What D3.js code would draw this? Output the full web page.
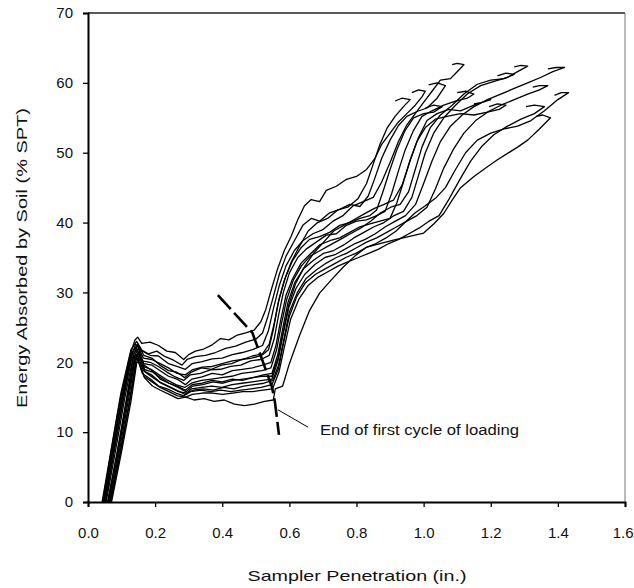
<!DOCTYPE html>
<html>
<head>
<meta charset="utf-8">
<script src="https://cdn.jsdelivr.net/npm/d3@7"></script>
<style>
  body { margin: 0; background: #fff; }
  text { font-family: "Liberation Sans", Arial, sans-serif; fill: #111; }
</style>
</head>
<body>
<div id="chart"></div>
<script>
"use strict";

// energy absorbed by soil vs sampler penetration, one array per blow record
const blow01 = [[0.044,0],[0.068,7.0],[0.094,14.2],[0.125,21.0],[0.140,23.2],[0.148,23.6],[0.160,22.7],[0.185,22.9],[0.210,22.4],[0.235,21.6],[0.260,21.4],[0.285,20.4],[0.300,21.1],[0.320,21.6],[0.345,21.9],[0.370,22.5],[0.395,23.4],[0.420,23.2],[0.445,23.9],[0.470,24.2],[0.495,24.6],[0.515,25.8],[0.530,27.6],[0.545,30.2],[0.565,33.4],[0.585,36.0],[0.605,38.0],[0.625,40.4],[0.645,42.4],[0.665,43.3],[0.690,43.0],[0.710,44.6],[0.740,45.2],[0.770,46.2],[0.800,46.6],[0.830,47.6],[0.855,49.2],[0.875,51.2],[0.900,52.8],[0.925,54.4],[0.950,55.6],[0.975,56.8],[0.995,58.0],[1.005,58.8],[0.985,59.0],[0.965,58.6]];
const blow02 = [[0.048,0],[0.074,7.6],[0.100,14.8],[0.128,20.8],[0.142,22.6],[0.158,21.8],[0.180,21.2],[0.205,21.6],[0.230,20.8],[0.255,20.3],[0.280,19.6],[0.295,20.4],[0.320,20.8],[0.350,21.0],[0.380,21.4],[0.410,22.0],[0.440,22.3],[0.470,22.9],[0.500,23.3],[0.520,24.2],[0.535,26.4],[0.550,29.0],[0.570,32.6],[0.590,35.2],[0.615,37.4],[0.640,39.6],[0.665,40.6],[0.690,40.2],[0.720,41.4],[0.750,41.9],[0.780,42.6],[0.810,42.3],[0.835,43.8],[0.855,46.4],[0.875,49.2],[0.900,51.8],[0.925,53.9],[0.950,55.2],[0.980,55.9],[1.010,56.4],[1.040,57.8],[1.065,59.6],[1.040,60.0],[1.015,59.7]];
const blow03 = [[0.042,0],[0.070,7.8],[0.098,15.6],[0.128,21.8],[0.145,23.0],[0.162,21.6],[0.185,21.0],[0.210,20.9],[0.240,19.8],[0.265,19.4],[0.290,19.0],[0.310,19.8],[0.340,20.1],[0.370,20.5],[0.400,20.6],[0.430,21.1],[0.460,21.4],[0.490,21.8],[0.520,22.4],[0.538,24.6],[0.553,27.8],[0.570,31.0],[0.590,33.8],[0.615,36.0],[0.640,37.4],[0.670,38.4],[0.700,39.0],[0.730,40.2],[0.760,41.0],[0.790,42.4],[0.820,43.0],[0.850,43.6],[0.875,45.8],[0.900,48.6],[0.925,51.6],[0.950,54.0],[0.975,55.6],[1.000,57.2],[1.025,58.8],[1.050,60.4],[1.080,60.6],[1.100,61.6],[1.120,62.6],[1.100,62.8],[1.085,62.6]];
const blow04 = [[0.058,0],[0.088,7.4],[0.114,14.6],[0.136,21.0],[0.147,22.4],[0.165,20.6],[0.190,20.4],[0.215,19.8],[0.240,19.2],[0.265,18.4],[0.290,18.2],[0.310,18.9],[0.340,19.3],[0.370,19.4],[0.400,19.8],[0.430,20.2],[0.460,20.4],[0.490,20.9],[0.520,21.2],[0.540,22.6],[0.555,25.6],[0.570,29.2],[0.590,32.4],[0.610,34.6],[0.635,36.4],[0.660,37.6],[0.690,38.0],[0.720,38.6],[0.750,39.6],[0.780,40.0],[0.810,40.6],[0.840,41.0],[0.860,41.8],[0.880,44.6],[0.900,47.6],[0.920,50.4],[0.945,53.2],[0.970,55.0],[1.000,55.6],[1.030,55.8],[1.055,56.6],[1.030,56.8],[1.005,56.4]];
const blow05 = [[0.046,0],[0.072,7.2],[0.099,14.6],[0.128,21.2],[0.143,22.2],[0.160,20.2],[0.185,20.0],[0.210,19.4],[0.235,18.6],[0.260,17.9],[0.285,17.4],[0.305,18.2],[0.335,18.4],[0.365,18.9],[0.395,19.0],[0.425,19.4],[0.455,19.6],[0.485,20.2],[0.515,20.4],[0.540,21.0],[0.555,23.4],[0.568,26.8],[0.582,30.0],[0.600,32.8],[0.625,35.0],[0.650,36.2],[0.680,37.2],[0.710,38.2],[0.740,38.4],[0.770,39.6],[0.800,40.2],[0.830,40.4],[0.860,41.0],[0.885,41.6],[0.905,44.2],[0.925,47.4],[0.945,50.4],[0.970,53.2],[0.995,55.2],[1.025,56.0],[1.060,56.8],[1.095,57.4],[1.130,57.8],[1.150,58.4],[1.125,58.8],[1.100,58.6]];
const blow06 = [[0.062,0],[0.092,7.6],[0.118,14.8],[0.140,21.0],[0.150,22.0],[0.166,19.8],[0.190,19.6],[0.215,18.8],[0.240,18.0],[0.265,17.6],[0.290,16.8],[0.310,17.6],[0.340,17.9],[0.370,18.4],[0.400,18.2],[0.430,18.8],[0.460,19.0],[0.490,19.2],[0.520,19.6],[0.545,20.0],[0.560,22.4],[0.574,26.0],[0.590,29.6],[0.610,32.0],[0.635,34.2],[0.660,35.4],[0.690,36.8],[0.720,37.4],[0.750,37.8],[0.780,38.6],[0.810,39.4],[0.840,39.8],[0.870,40.2],[0.900,40.6],[0.920,42.8],[0.940,45.8],[0.960,49.0],[0.985,52.2],[1.010,54.6],[1.040,55.6],[1.075,56.2],[1.110,56.0],[1.150,56.8],[1.185,57.4],[1.200,57.6],[1.175,57.2],[1.150,57.0]];
const blow07 = [[0.050,0],[0.078,7.6],[0.105,14.8],[0.131,21.0],[0.146,21.8],[0.164,19.4],[0.188,19.0],[0.212,18.2],[0.238,17.4],[0.262,16.8],[0.288,16.4],[0.308,17.0],[0.338,17.4],[0.368,17.6],[0.398,17.8],[0.428,18.0],[0.458,18.4],[0.488,18.6],[0.518,18.8],[0.545,19.2],[0.562,21.8],[0.576,25.4],[0.592,29.0],[0.612,31.8],[0.636,33.8],[0.662,35.2],[0.692,36.0],[0.722,36.8],[0.752,37.6],[0.782,38.4],[0.812,39.2],[0.842,40.2],[0.872,41.4],[0.902,42.2],[0.930,42.6],[0.955,44.4],[0.975,47.6],[0.995,50.8],[1.020,53.6],[1.050,55.4],[1.085,56.8],[1.120,58.4],[1.160,59.8],[1.200,60.4],[1.240,60.6],[1.270,61.2],[1.245,61.4],[1.220,61.0]];
const blow08 = [[0.066,0],[0.097,7.4],[0.124,14.6],[0.143,20.4],[0.152,21.6],[0.168,19.0],[0.192,18.6],[0.216,17.8],[0.242,17.0],[0.268,16.4],[0.292,15.8],[0.312,16.6],[0.342,16.8],[0.372,17.2],[0.402,17.0],[0.432,17.4],[0.462,17.6],[0.492,17.8],[0.522,18.2],[0.548,18.4],[0.565,21.0],[0.580,24.8],[0.596,28.6],[0.616,31.4],[0.642,33.4],[0.672,34.6],[0.702,35.6],[0.732,36.0],[0.762,36.8],[0.792,37.8],[0.822,38.6],[0.852,39.4],[0.882,40.0],[0.912,41.0],[0.940,41.6],[0.965,43.6],[0.985,46.8],[1.005,50.0],[1.030,52.8],[1.060,55.0],[1.095,56.8],[1.130,58.4],[1.170,59.6],[1.210,60.2],[1.250,60.8],[1.280,61.6],[1.310,62.4],[1.290,62.5],[1.270,62.3]];
const blow09 = [[0.054,0],[0.083,7.6],[0.110,15.0],[0.134,20.6],[0.147,21.2],[0.165,18.8],[0.189,18.2],[0.213,17.2],[0.239,16.6],[0.265,16.0],[0.289,15.4],[0.309,16.2],[0.339,16.4],[0.369,16.6],[0.399,16.4],[0.429,16.8],[0.459,17.0],[0.489,17.2],[0.519,17.4],[0.548,17.6],[0.566,20.2],[0.581,24.0],[0.598,27.8],[0.620,30.6],[0.646,32.6],[0.676,34.0],[0.706,35.0],[0.736,35.4],[0.766,36.2],[0.796,37.0],[0.826,37.6],[0.856,38.4],[0.886,39.4],[0.916,40.2],[0.946,41.0],[0.976,42.6],[1.000,45.6],[1.025,48.8],[1.050,51.6],[1.080,53.8],[1.115,55.4],[1.150,56.6],[1.190,57.6],[1.230,58.4],[1.270,59.2],[1.310,60.0],[1.350,60.8],[1.385,61.6],[1.420,62.2],[1.395,62.2],[1.370,62.0]];
const blow10 = [[0.070,0],[0.100,7.2],[0.128,14.4],[0.146,20.2],[0.154,20.8],[0.170,18.6],[0.194,17.8],[0.218,17.0],[0.244,16.4],[0.270,15.8],[0.294,15.6],[0.314,16.0],[0.344,16.2],[0.374,16.0],[0.404,16.4],[0.434,16.2],[0.464,16.6],[0.494,16.8],[0.524,17.0],[0.550,17.4],[0.568,19.6],[0.584,23.4],[0.600,27.2],[0.624,30.0],[0.650,32.0],[0.680,33.2],[0.710,34.2],[0.740,35.0],[0.770,35.6],[0.800,36.4],[0.830,37.2],[0.860,37.8],[0.890,38.6],[0.920,39.4],[0.950,40.2],[0.980,41.0],[1.010,42.2],[1.035,44.8],[1.060,47.8],[1.090,50.6],[1.120,52.8],[1.155,54.6],[1.190,55.8],[1.230,56.8],[1.270,57.6],[1.310,58.4],[1.345,59.0],[1.370,59.6],[1.345,59.6],[1.325,59.4]];
const blow11 = [[0.047,0],[0.074,7.4],[0.101,14.6],[0.129,20.6],[0.144,21.0],[0.162,18.4],[0.186,17.6],[0.210,16.6],[0.236,16.2],[0.262,15.6],[0.286,15.2],[0.306,15.8],[0.336,16.0],[0.366,15.8],[0.396,16.0],[0.426,15.8],[0.456,16.0],[0.486,16.2],[0.516,16.4],[0.548,16.8],[0.567,19.0],[0.583,22.8],[0.600,26.6],[0.622,29.4],[0.648,31.4],[0.678,32.6],[0.708,33.4],[0.738,34.2],[0.768,35.0],[0.798,35.6],[0.828,36.4],[0.858,37.0],[0.888,37.8],[0.918,38.8],[0.948,40.2],[0.975,41.4],[1.005,42.4],[1.038,43.6],[1.065,45.0],[1.095,47.6],[1.125,50.0],[1.160,51.8],[1.200,52.8],[1.240,53.4],[1.280,53.8],[1.320,54.6],[1.360,56.0],[1.400,57.6],[1.432,58.6],[1.410,58.6],[1.390,58.2]];
const blow12 = [[0.060,0],[0.090,7.8],[0.117,15.0],[0.138,20.4],[0.149,20.4],[0.167,18.0],[0.191,17.2],[0.215,16.4],[0.241,15.8],[0.267,15.2],[0.291,15.0],[0.311,15.4],[0.341,15.6],[0.371,15.6],[0.401,15.4],[0.431,15.6],[0.461,15.8],[0.491,15.8],[0.521,16.0],[0.550,16.2],[0.569,18.6],[0.586,22.4],[0.604,26.2],[0.628,29.0],[0.656,31.0],[0.686,32.2],[0.716,33.0],[0.746,33.8],[0.776,34.4],[0.806,35.0],[0.836,35.6],[0.866,36.2],[0.896,37.0],[0.926,37.6],[0.956,38.4],[0.986,39.2],[1.016,40.2],[1.046,41.0],[1.076,43.4],[1.106,46.0],[1.140,48.8],[1.175,51.0],[1.210,52.6],[1.250,53.8],[1.290,54.8],[1.330,55.6],[1.360,56.6],[1.330,56.8],[1.305,56.6]];
const blow13 = [[0.068,0],[0.099,7.6],[0.126,14.8],[0.144,20.0],[0.152,20.0],[0.168,17.8],[0.192,16.6],[0.216,16.0],[0.242,15.4],[0.268,14.8],[0.292,15.0],[0.316,14.6],[0.346,14.8],[0.376,14.4],[0.406,14.6],[0.436,14.0],[0.466,13.8],[0.496,14.0],[0.526,14.4],[0.552,14.6],[0.558,16.2],[0.580,16.6],[0.600,19.8],[0.630,23.8],[0.660,27.4],[0.690,29.9],[0.725,31.8],[0.760,33.6],[0.795,35.2],[0.830,36.5],[0.870,37.0],[0.910,37.5],[0.955,38.0],[1.000,38.5],[1.030,39.8],[1.060,41.3],[1.085,43.2],[1.110,45.0],[1.150,46.6],[1.190,48.0],[1.220,49.0],[1.250,49.9],[1.280,50.8],[1.310,51.8],[1.345,53.4],[1.378,55.0],[1.355,55.4],[1.335,55.2]];
const blow14 = [[0.052,0],[0.080,7.8],[0.107,15.2],[0.133,21.4],[0.148,22.6],[0.166,21.0],[0.190,20.6],[0.214,19.6],[0.240,18.8],[0.264,18.6],[0.288,17.8],[0.308,18.6],[0.338,19.2],[0.368,19.0],[0.398,19.6],[0.428,19.8],[0.458,20.4],[0.488,20.6],[0.518,21.0],[0.538,21.8],[0.552,24.6],[0.566,28.4],[0.584,31.6],[0.606,34.4],[0.630,36.6],[0.656,38.8],[0.684,40.0],[0.714,40.6],[0.744,41.8],[0.774,42.2],[0.804,43.4],[0.830,45.6],[0.850,48.4],[0.870,51.2],[0.892,53.6],[0.915,55.2],[0.940,56.6],[0.960,57.6],[0.935,57.8],[0.915,57.4]];
const blow15 = [[0.064,0],[0.094,7.4],[0.121,14.8],[0.141,20.6],[0.150,21.4],[0.167,19.6],[0.191,18.8],[0.215,17.6],[0.241,17.0],[0.266,16.6],[0.290,16.0],[0.310,16.8],[0.340,17.0],[0.370,17.4],[0.400,17.2],[0.430,17.6],[0.460,17.4],[0.490,17.8],[0.520,18.0],[0.548,18.0],[0.566,20.6],[0.582,24.4],[0.598,28.2],[0.618,31.2],[0.644,33.6],[0.672,35.6],[0.702,37.2],[0.732,38.8],[0.762,39.6],[0.792,40.4],[0.822,41.2],[0.852,42.0],[0.882,42.6],[0.910,43.2],[0.936,45.4],[0.958,48.6],[0.980,51.6],[1.005,53.6],[1.035,54.8],[1.070,55.2],[1.110,55.6],[1.150,55.4],[1.190,55.8],[1.225,56.2],[1.245,56.8],[1.220,57.0],[1.195,56.6]];

const xTicks = [0.0, 0.2, 0.4, 0.6, 0.8, 1.0, 1.2, 1.4, 1.6];
const yTicks = [0, 10, 20, 30, 40, 50, 60, 70];

// dashed marker for the end of the first loading cycle, and its label
const cycleEndLine = [[0.387,29.6],[0.49,24.2],[0.548,16.5],[0.557,14.3],[0.569,9.6]];
const leaderLine = [[0.566,13.2],[0.656,10.7]];
const noteLabel = "End of first cycle of loading";

const cont = {
    width: 634,
    height: 588,
    left: 88,
    right: 625,
    top: 13,
    bottom: 502
}

let svg = d3.select("#chart")
    .append("svg")
    .attr("width", cont.width)
    .attr("height", cont.height);

let xScale = d3.scaleLinear()
    .domain([0, 1.6])
    .range([cont.left, cont.right]);

let yScale = d3.scaleLinear()
    .domain([0, 70])
    .range([cont.bottom, cont.top]);

// frame: top and right edges are lighter than the axes
svg.append("line")
    .attr("x1", cont.left).attr("x2", cont.right)
    .attr("y1", cont.top).attr("y2", cont.top)
    .attr("stroke", "#222").attr("stroke-width", 1.5);
svg.append("line")
    .attr("x1", cont.right).attr("x2", cont.right)
    .attr("y1", cont.top).attr("y2", cont.bottom)
    .attr("stroke", "#777").attr("stroke-width", 1);

let xAxis = d3.axisBottom(xScale)
    .tickValues(xTicks)
    .tickSize(5)
    .tickPadding(20)
    .tickFormat(d3.format(".1f"));
let gx = svg.append("g")
    .attr("transform", "translate(0," + cont.bottom + ")")
    .call(xAxis);

let yAxis = d3.axisLeft(yScale)
    .tickValues(yTicks)
    .tickSize(5)
    .tickPadding(10)
    .tickFormat(d3.format("d"));
let gy = svg.append("g")
    .attr("transform", "translate(" + cont.left + ",0)")
    .call(yAxis);

[gx, gy].forEach((g) => {
    g.select(".domain").attr("stroke", "#000").attr("stroke-width", 2);
    g.selectAll(".tick line").attr("stroke", "#000").attr("stroke-width", 1.3);
    g.selectAll(".tick text")
        .style("font-family", '"Liberation Sans", Arial, sans-serif')
        .style("font-size", "15px")
        .attr("fill", "#111");
});
gx.selectAll(".tick text").attr("dy", "0.71em");
// last label sits against the page edge, keep it inside
gx.selectAll(".tick text")
    .filter((d) => d === 1.6)
    .attr("text-anchor", "end")
    .attr("x", 8);

let line = d3.line()
    .x((d) => xScale(d[0]))
    .y((d) => yScale(d[1]));

let curves = [blow01, blow02, blow03, blow04, blow05, blow06, blow07, blow08,
              blow09, blow10, blow11, blow12, blow13, blow14, blow15];

svg.append("g")
    .selectAll("path")
    .data(curves)
    .enter()
    .append("path")
    .attr("d", line)
    .attr("fill", "none")
    .attr("stroke", "#000")
    .attr("stroke-width", 1.3)
    .attr("stroke-linejoin", "round");

svg.append("path")
    .datum(cycleEndLine)
    .attr("d", line)
    .attr("fill", "none")
    .attr("stroke", "#000")
    .attr("stroke-width", 2.6)
    .attr("stroke-dasharray", "19,5");

svg.append("path")
    .datum(leaderLine)
    .attr("d", line)
    .attr("fill", "none")
    .attr("stroke", "#000")
    .attr("stroke-width", 1);

svg.append("text")
    .attr("x", 320)
    .attr("y", 435)
    .attr("textLength", 199)
    .attr("lengthAdjust", "spacingAndGlyphs")
    .style("font-size", "14px")
    .text(noteLabel);

svg.append("text")
    .attr("x", 357)
    .attr("y", 581)
    .attr("text-anchor", "middle")
    .attr("textLength", 219)
    .attr("lengthAdjust", "spacingAndGlyphs")
    .style("font-size", "15px")
    .text("Sampler Penetration (in.)");

svg.append("text")
    .attr("transform", "translate(27,258) rotate(-90)")
    .attr("text-anchor", "middle")
    .attr("textLength", 300)
    .attr("lengthAdjust", "spacingAndGlyphs")
    .style("font-size", "15px")
    .text("Energy Absorbed by Soil (% SPT)");
</script>
</body>
</html>
